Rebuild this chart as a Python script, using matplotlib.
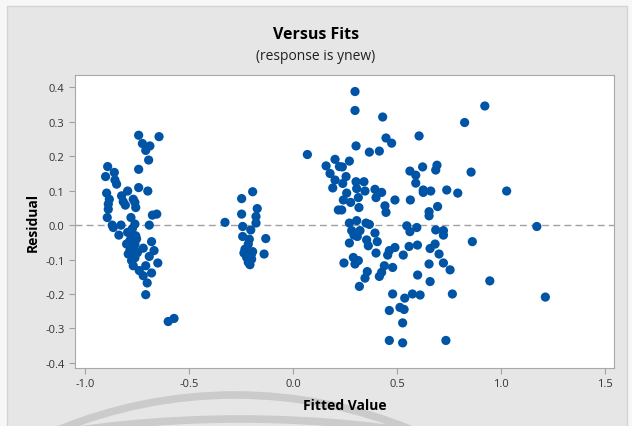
import matplotlib.pyplot as plt
from matplotlib.patches import Rectangle, Arc

plt.rcParams['font.family'] = ['Open Sans', 'Lato', 'DejaVu Sans']
plt.rcParams['axes.unicode_minus'] = False

# --- data (fitted value, residual) ---
# left cluster
fit_a = [-0.742, -0.644, -0.724, -0.688, -0.708, -0.694, -0.742, -0.891, -0.859, -0.901,
         -0.856, -0.848, -0.742, -0.698, -0.795, -0.896, -0.824, -0.883, -0.768, -0.816,
         -0.888, -0.760, -0.806, -0.756, -0.888, -0.893, -0.779, -0.676, -0.655, -0.869,
         -0.827, -0.760, -0.691, -0.864, -0.837, -0.795, -0.776, -0.756, -0.784, -0.800,
         -0.760, -0.720, -0.680, -0.668, -0.784, -0.768, -0.792, -0.691, -0.776, -0.650,
         -0.768, -0.708, -0.739, -0.680, -0.720, -0.701, -0.708, -0.600, -0.572,
         -0.772, -0.752, -0.764, -0.748, -0.780, -0.760]
res_a = [0.261, 0.257, 0.237, 0.230, 0.217, 0.189, 0.162, 0.170, 0.153, 0.141,
         0.131, 0.119, 0.109, 0.099, 0.099, 0.093, 0.085, 0.075, 0.075, 0.068,
         0.061, 0.066, 0.058, 0.051, 0.046, 0.022, 0.022, 0.029, 0.032, 0.000,
         0.000, 0.003, 0.000, -0.007, -0.029, -0.021, -0.031, -0.031, -0.045, -0.055,
         -0.055, -0.067, -0.048, -0.074, -0.074, -0.089, -0.084, -0.091, -0.103, -0.110,
         -0.118, -0.118, -0.132, -0.139, -0.147, -0.168, -0.202, -0.280, -0.271,
         -0.010, -0.040, -0.065, -0.080, -0.060, -0.095]

# middle cluster
fit_b = [-0.194, -0.247, -0.172, -0.247, -0.178, -0.327, -0.178, -0.242, -0.203, -0.242,
         -0.210, -0.131, -0.215, -0.231, -0.236, -0.194, -0.139, -0.215, -0.199, -0.215,
         -0.223, -0.207, -0.200]
res_b = [0.097, 0.077, 0.048, 0.032, 0.025, 0.008, 0.006, -0.004, -0.014, -0.033,
         -0.041, -0.039, -0.055, -0.070, -0.081, -0.077, -0.084, -0.091, -0.099, -0.108,
         -0.094, -0.115, -0.085]

# right cluster
fit_c = [0.298, 0.298, 0.431, 0.447, 0.474, 0.303, 0.367, 0.415, 0.069, 0.202,
         0.271, 0.159, 0.223, 0.237, 0.178, 0.255, 0.202, 0.303, 0.341, 0.239,
         0.191, 0.306, 0.346, 0.394, 0.426, 0.258, 0.314, 0.399, 0.242, 0.277,
         0.490, 0.442, 0.317, 0.218, 0.234, 0.447, 0.306, 0.271, 0.351, 0.367,
         0.282, 0.322, 0.293, 0.309, 0.394, 0.354, 0.405, 0.271, 0.362, 0.490,
         0.463, 0.399, 0.455, 0.290, 0.314, 0.245, 0.298, 0.439, 0.479, 0.357,
         0.426, 0.415, 0.346, 0.319, 0.479, 0.514, 0.534, 0.463, 0.527, 0.463,
         0.527,
         0.922, 0.825, 0.606, 0.562, 0.623, 0.590, 0.692, 0.686, 0.856, 0.590,
         0.626, 0.626, 0.662, 0.739, 0.792, 1.027, 0.564, 0.695, 0.654, 0.654,
         0.547, 0.595, 0.562, 0.686, 0.723, 0.723, 1.172, 0.862, 0.558, 0.598,
         0.683, 0.659, 0.530, 0.702, 0.654, 0.723, 0.755, 0.599, 0.659, 0.946,
         0.574, 0.611, 0.766, 0.537, 1.213, 0.735]
res_c = [0.388, 0.333, 0.314, 0.253, 0.238, 0.230, 0.212, 0.215, 0.205, 0.191,
         0.186, 0.172, 0.170, 0.169, 0.150, 0.141, 0.131, 0.126, 0.126, 0.121,
         0.108, 0.106, 0.099, 0.104, 0.095, 0.093, 0.080, 0.080, 0.073, 0.066,
         0.073, 0.056, 0.051, 0.044, 0.044, 0.037, 0.013, 0.006, 0.006, 0.002,
         -0.016, -0.016, -0.029, -0.033, -0.023, -0.043, -0.048, -0.052, -0.060, -0.065,
         -0.074, -0.081, -0.087, -0.094, -0.103, -0.110, -0.113, -0.118, -0.123, -0.135,
         -0.137, -0.149, -0.154, -0.178, -0.200, -0.239, -0.245, -0.248, -0.284, -0.335,
         -0.342,
         0.346, 0.298, 0.259, 0.157, 0.169, 0.145, 0.174, 0.160, 0.154, 0.122,
         0.102, 0.095, 0.099, 0.102, 0.093, 0.099, 0.073, 0.054, 0.039, 0.027,
         -0.002, -0.007, -0.019, -0.014, -0.016, -0.029, -0.004, -0.048, -0.062, -0.058,
         -0.055, -0.068, -0.087, -0.084, -0.113, -0.110, -0.130, -0.145, -0.164, -0.162,
         -0.200, -0.203, -0.200, -0.212, -0.209, -0.335]

fitted = fit_a + fit_b + fit_c
resid = res_a + res_b + res_c

xticks = [-1.0, -0.5, 0.0, 0.5, 1.0, 1.5]
yticks = [-0.4, -0.3, -0.2, -0.1, 0.0, 0.1, 0.2, 0.3, 0.4]

W, H = 632, 427
fig = plt.figure(figsize=(W / 100, H / 100), dpi=100, facecolor='#f7f7f7')

# background panel + faint watermark arcs, in pixel coordinates
bg = fig.add_axes([0, 0, 1, 1], zorder=0)
bg.set_xlim(0, W)
bg.set_ylim(H, 0)
bg.axis('off')
bg.add_patch(Rectangle((7, 7), 620, 430, facecolor='#e6e6e6', edgecolor='#d4d4d4', lw=1))
bg.add_patch(Arc((235, 861), 930, 930, theta1=180, theta2=360, color='#cbcbcb', lw=5.5))
bg.add_patch(Arc((240, 1600), 2360, 2360, theta1=180, theta2=360, color='#cbcbcb', lw=5.5))

ax = fig.add_axes([75 / W, 1 - 369 / H, (614 - 75) / W, (369 - 76) / H], zorder=1)
ax.set_facecolor('white')
ax.scatter(fitted, resid, s=44, color='#0054a6', edgecolors='none', zorder=3)
ax.axhline(0, color='#a0a0a0', lw=1, ls=(0, (5, 3)), zorder=2)

ax.set_xlim(-1.048, 1.543)
ax.set_ylim(-0.415, 0.436)
ax.set_xticks(xticks)
ax.set_yticks(yticks)
ax.set_xticklabels([f'{v:.1f}' for v in xticks])
ax.set_yticklabels([f'{v:.1f}' for v in yticks])
ax.tick_params(colors='#a0a0a0', labelcolor='#333333', labelsize=8, length=4, width=0.8)
for s in ax.spines.values():
    s.set_color('#a8a8a8')

ax.set_xlabel('Fitted Value', fontsize=10, fontweight='bold', labelpad=6)
ax.set_ylabel('Residual', fontsize=10, fontweight='bold', labelpad=4)

fig.text(0.5, 1 - 35 / H, 'Versus Fits', ha='center', va='center', fontsize=11.5, fontweight='bold')
fig.text(0.5, 1 - 57 / H, '(response is ynew)', ha='center', va='center', fontsize=10, color='#222222')

fig.savefig('out.png', dpi=100)
